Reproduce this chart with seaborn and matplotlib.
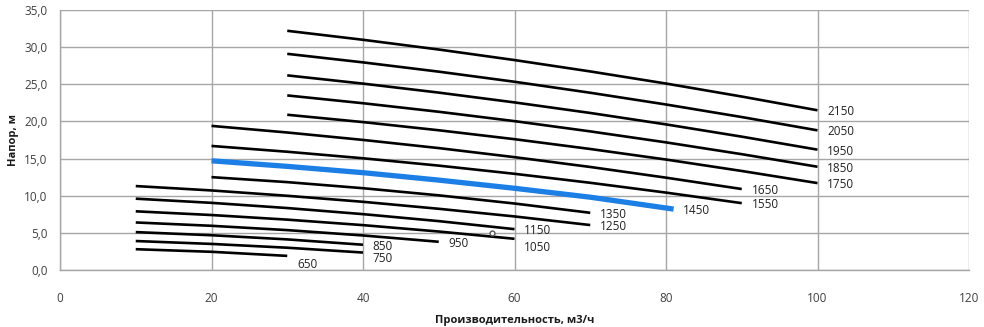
import matplotlib
matplotlib.use("Agg")
import matplotlib.pyplot as plt
import seaborn as sns
import pandas as pd
from matplotlib.ticker import FuncFormatter

# ---- data ----
series_names = ["650", "750", "850", "950", "1050", "1150", "1250", "1350",
                "1450", "1550", "1650", "1750", "1850", "1950", "2050", "2150"]

q_650 = [10, 20, 30];            h_650 = [2.8, 2.45, 1.9]
q_750 = [10, 20, 30, 40];        h_750 = [3.9, 3.51, 3.0, 2.35]
q_850 = [10, 20, 30, 40];        h_850 = [5.1, 4.68, 4.12, 3.4]
q_950 = [10, 20, 30, 40, 50];    h_950 = [6.4, 5.95, 5.37, 4.65, 3.8]
q_1050 = [10, 20, 30, 40, 50, 60]; h_1050 = [7.9, 7.4, 6.78, 6.04, 5.18, 4.2]
q_1150 = [10, 20, 30, 40, 50, 60]; h_1150 = [9.6, 9.04, 8.34, 7.52, 6.58, 5.5]
q_1250 = [10, 20, 30, 40, 50, 60, 70]; h_1250 = [11.3, 10.71, 9.99, 9.18, 8.24, 7.21, 6.05]
q_1350 = [20, 30, 40, 50, 60, 70]; h_1350 = [12.5, 11.83, 11.01, 10.05, 8.95, 7.7]
q_1450 = [20, 30, 40, 50, 60, 70, 81]; h_1450 = [14.7, 13.95, 13.1, 12.1, 11.0, 9.8, 8.2]
q_1550 = [20, 30, 40, 50, 60, 70, 80, 90]; h_1550 = [16.7, 15.92, 15.04, 14.05, 12.95, 11.74, 10.42, 9.0]
q_1650 = [20, 30, 40, 50, 60, 70, 80, 90]; h_1650 = [19.4, 18.51, 17.51, 16.41, 15.19, 13.87, 12.43, 10.9]
q_1750 = [30, 40, 50, 60, 70, 80, 90, 100]; h_1750 = [20.9, 19.91, 18.81, 17.61, 16.29, 14.87, 13.33, 11.7]
q_1850 = [30, 40, 50, 60, 70, 80, 90, 100]; h_1850 = [23.5, 22.45, 21.3, 20.04, 18.66, 17.18, 15.59, 13.9]
q_1950 = [30, 40, 50, 60, 70, 80, 90, 100]; h_1950 = [26.2, 25.09, 23.88, 22.56, 21.14, 19.6, 17.95, 16.2]
q_2050 = [30, 40, 50, 60, 70, 80, 90, 100]; h_2050 = [29.1, 27.95, 26.7, 25.34, 23.86, 22.28, 20.59, 18.8]
q_2150 = [30, 40, 50, 60, 70, 80, 90, 100]; h_2150 = [32.2, 30.99, 29.68, 28.26, 26.73, 25.1, 23.35, 21.5]

stray_point_q = [57]
stray_point_h = [5.0]

x_ticks = [0, 20, 40, 60, 80, 100, 120]
y_ticks = [0, 5, 10, 15, 20, 25, 30, 35]
x_label = "Производительность, м3/ч"
y_label = "Напор, м"
highlight = "1450"

qs = [q_650, q_750, q_850, q_950, q_1050, q_1150, q_1250, q_1350,
      q_1450, q_1550, q_1650, q_1750, q_1850, q_1950, q_2050, q_2150]
hs = [h_650, h_750, h_850, h_950, h_1050, h_1150, h_1250, h_1350,
      h_1450, h_1550, h_1650, h_1750, h_1850, h_1950, h_2050, h_2150]

# label vertical nudges (points), style only
label_dy = {"650": -5, "750": -3.5, "1050": -5}

rows = []
for name, q, h in zip(series_names, qs, hs):
    for a, b in zip(q, h):
        rows.append({"series": name, "Q": a, "H": b})
df = pd.DataFrame(rows)

# ---- style ----
sns.set_style("white")
plt.rcParams["font.family"] = ["Open Sans", "DejaVu Sans"]

fig = plt.figure(figsize=(9.84, 3.27), dpi=100)
ax = fig.add_axes([60 / 984, 1 - 270 / 327, (969 - 60) / 984, (270 - 10) / 327])

palette = {n: ("#1B7FE6" if n == highlight else "black") for n in series_names}
black_df = df[df["series"] != highlight]
blue_df = df[df["series"] == highlight]

sns.lineplot(data=black_df, x="Q", y="H", hue="series", palette=palette,
             linewidth=1.9, legend=False, ax=ax, sort=False, estimator=None,
             solid_joinstyle="round", solid_capstyle="butt")
sns.lineplot(data=blue_df, x="Q", y="H", hue="series", palette=palette,
             linewidth=3.8, legend=False, ax=ax, sort=False, estimator=None,
             solid_joinstyle="round", solid_capstyle="butt")

ax.plot(stray_point_q, stray_point_h, marker="o", markersize=3.5,
        markerfacecolor="white", markeredgecolor="#555555", linestyle="none")

for name, q, h in zip(series_names, qs, hs):
    ax.annotate(name, xy=(q[-1], h[-1]), xytext=(7, label_dy.get(name, 0) - 1),
                textcoords="offset points",
                ha="left", va="center", fontsize=8.5, color="#222222")

ax.set_xlim(0, 120)
ax.set_ylim(0, 35)
ax.set_xticks(x_ticks)
ax.set_yticks(y_ticks)
ax.yaxis.set_major_formatter(FuncFormatter(lambda v, p: f"{v:.1f}".replace(".", ",")))
ax.xaxis.set_major_formatter(FuncFormatter(lambda v, p: f"{int(v)}"))

ax.grid(True, color="#a6a6a6", linewidth=1.0)
ax.set_axisbelow(True)
for s in ["top", "right"]:
    ax.spines[s].set_visible(False)
for s in ["left", "bottom"]:
    ax.spines[s].set_color("#a6a6a6")
    ax.spines[s].set_linewidth(1.0)

ax.tick_params(axis="both", direction="out", length=4, width=1, color="#a6a6a6",
               labelsize=8.5, labelcolor="#404040")
ax.tick_params(axis="x", pad=12)
ax.tick_params(axis="y", pad=5)

ax.set_xlabel(x_label, fontsize=8, fontweight="bold", color="#1a1a1a", labelpad=7)
ax.set_ylabel(y_label, fontsize=8, fontweight="bold", color="#1a1a1a", labelpad=4)

fig.savefig("out.png", dpi=100, facecolor="white")
